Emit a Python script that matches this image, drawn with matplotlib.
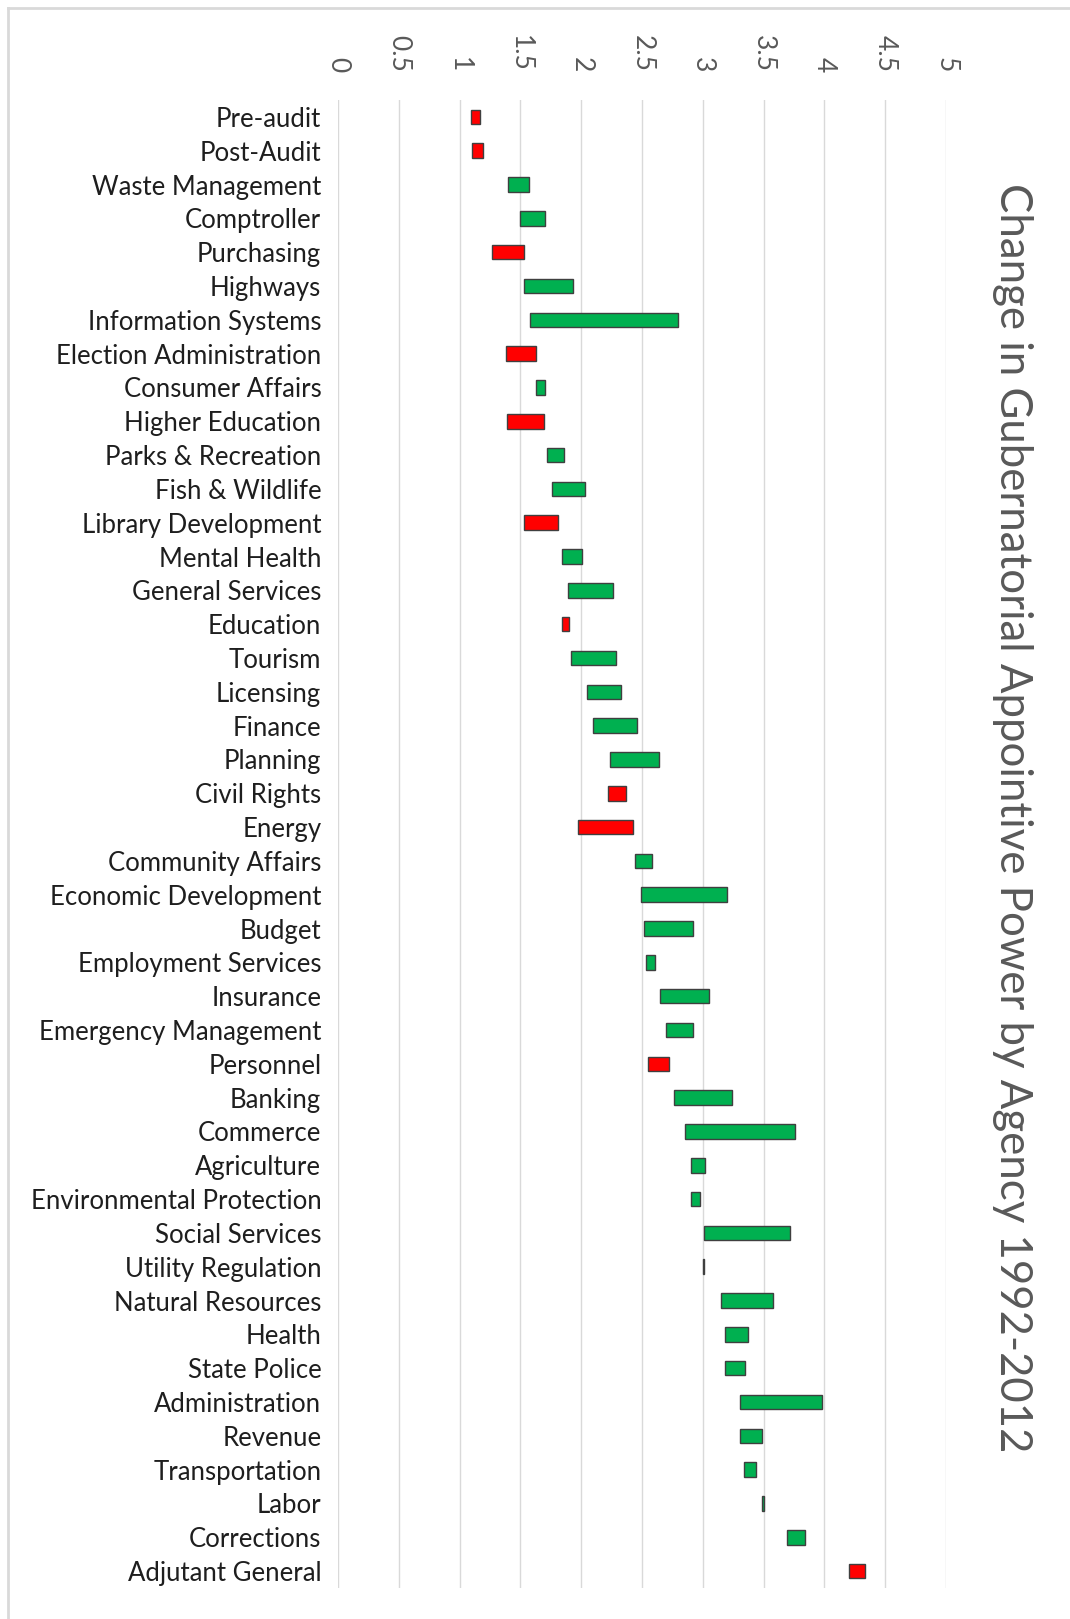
import matplotlib
matplotlib.use("Agg")
import matplotlib.pyplot as plt
from matplotlib.lines import Line2D
import numpy as np

# Agencies, top to bottom
agencies = [
    "Pre-audit", "Post-Audit", "Waste Management", "Comptroller", "Purchasing",
    "Highways", "Information Systems", "Election Administration", "Consumer Affairs",
    "Higher Education", "Parks & Recreation", "Fish & Wildlife", "Library Development",
    "Mental Health", "General Services", "Education", "Tourism", "Licensing",
    "Finance", "Planning", "Civil Rights", "Energy", "Community Affairs",
    "Economic Development", "Budget", "Employment Services", "Insurance",
    "Emergency Management", "Personnel", "Banking", "Commerce", "Agriculture",
    "Environmental Protection", "Social Services", "Utility Regulation",
    "Natural Resources", "Health", "State Police", "Administration", "Revenue",
    "Transportation", "Labor", "Corrections", "Adjutant General",
]

# appointive power score in each year
score_1992 = [
    1.17, 1.19, 1.40, 1.50, 1.53,
    1.53, 1.58, 1.63, 1.63,
    1.69, 1.72, 1.76, 1.81,
    1.84, 1.89, 1.90, 1.92, 2.05,
    2.10, 2.24, 2.37, 2.43, 2.44,
    2.49, 2.52, 2.53, 2.65,
    2.70, 2.72, 2.76, 2.85, 2.90,
    2.90, 3.01, 3.00,
    3.15, 3.18, 3.18, 3.31, 3.31,
    3.34, 3.49, 3.69, 4.33,
]
score_2012 = [
    1.09, 1.10, 1.57, 1.70, 1.27,
    1.93, 2.80, 1.38, 1.70,
    1.39, 1.86, 2.03, 1.53,
    2.01, 2.26, 1.84, 2.29, 2.33,
    2.46, 2.64, 2.22, 1.97, 2.58,
    3.20, 2.92, 2.61, 3.05,
    2.92, 2.55, 3.24, 3.76, 3.02,
    2.98, 3.72, 3.01,
    3.58, 3.37, 3.35, 3.98, 3.49,
    3.44, 3.50, 3.84, 4.20,
]

x_ticks = [0, 0.5, 1, 1.5, 2, 2.5, 3, 3.5, 4, 4.5, 5]
title = "Change in Gubernatorial Appointive Power by Agency 1992-2012"

W, H = 1070, 1619
fig = plt.figure(figsize=(W / 100, H / 100), dpi=100)
ax = fig.add_axes([338 / W, 1 - 1588 / H, (946 - 338) / W, (1588 - 100) / H])

start = np.array(score_1992)
end = np.array(score_2012)
lo = np.minimum(start, end)
hi = np.maximum(start, end)
colors = ["#00B050" if e >= s else "#FF0000" for s, e in zip(start, end)]
y = np.arange(len(agencies))

ax.barh(y, hi - lo, left=lo, height=0.43, color=colors,
        edgecolor="#3f3f3f", linewidth=1.0, zorder=3)

ax.set_ylim(len(agencies) - 0.5, -0.5)
ax.set_xlim(0, 5)
ax.set_yticks(y)
ax.set_yticklabels(agencies, family=["Lato", "DejaVu Sans"], fontsize=18.5,
                   color="#1e1e1e")
ax.set_xticks(x_ticks)
ax.set_xticklabels([f"{t:g}" for t in x_ticks], family=["Lato", "DejaVu Sans"],
                   fontsize=19, color="#595959", rotation=-90, va="bottom",
                   ha="center")
ax.xaxis.tick_top()
ax.tick_params(axis="x", length=0, pad=20)
ax.tick_params(axis="y", length=0, pad=12)
ax.grid(axis="x", color="#d9d9d9", linewidth=1.0, zorder=0)
for s in ax.spines.values():
    s.set_visible(False)

fig.text(1012 / W, 1 - 818 / H, title, rotation=-90, ha="center", va="center",
         family=["Lato", "DejaVu Sans"], fontsize=31.5, color="#595959")

# chart area frame (left and top edges)
fig.add_artist(Line2D([8 / W, 8 / W], [0, 1 - 8 / H], color="#d9d9d9",
                      linewidth=2, transform=fig.transFigure))
fig.add_artist(Line2D([8 / W, 1], [1 - 8 / H, 1 - 8 / H], color="#d9d9d9",
                      linewidth=2, transform=fig.transFigure))

fig.savefig("out.png", dpi=100, facecolor="white")
